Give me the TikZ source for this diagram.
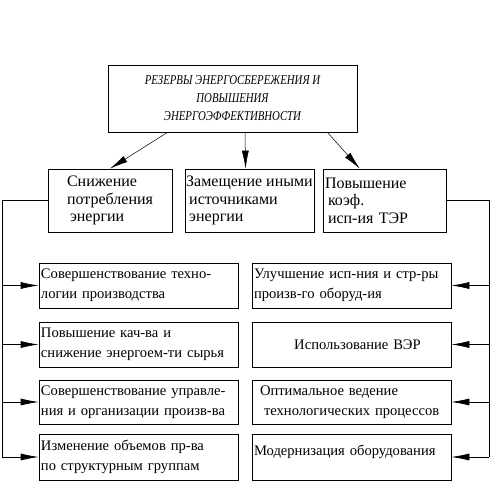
\documentclass[tikz,border=0pt]{standalone}
\usepackage{fontspec}
\setmainfont{Liberation Serif}
\newfontfamily\narrowfont[FakeStretch=0.8]{Liberation Serif}
\usetikzlibrary{arrows.meta, calc, positioning}

\begin{document}
\begin{tikzpicture}[% styles used in image code
   x = 1pt, y = -1pt, line width=0.7pt,
  feed/.style = {-{Latex[length=18pt, width=7pt]}},
 title/.style = {draw, minimum width=249pt, minimum height=67pt,
                 inner sep=0pt, align=center,
                 font=\narrowfont\itshape\fontsize{13.5}{18}\selectfont},
 group/.style = {draw, minimum height=63pt, inner sep=0pt, align=left,
                 font=\fontsize{16}{17.5}\selectfont},
   way/.style = {draw, text width=195pt, minimum height=45pt,
                 inner xsep=2pt, inner ysep=0pt, align=left,
                 font=\fontsize{14.6}{20}\selectfont}
                    ]
	\useasboundingbox (0,0) rectangle (499,481);

	% main box
	\node[title] (res) at (232.5,98.5)
	     {РЕЗЕРВЫ ЭНЕРГОСБЕРЕЖЕНИЯ И\\ПОВЫШЕНИЯ\\ЭНЕРГОЭФФЕКТИВНОСТИ};

	% three directions
	\node[group, minimum width=124pt] (low) at (110,200.5)
	     {Снижение\\потребления\\\hspace*{3pt}энергии};
	\node[group, minimum width=129pt] (sub) at (249.5,200.5)
	     {Замещение иными\\\hspace*{3pt}источниками\\\hspace*{3pt}энергии};
	\node[group, text width=119pt, inner xsep=2pt] (eff) at (384.5,200.5)
	     {Повышение\\\hspace*{3pt}коэф.\\\hspace*{3pt}исп-ия ТЭР};

	\draw[feed, line width=0.5pt] ($(res.south west)!0.24!(res.south east)$) -- (low.north);
	\draw[feed, line width=0.5pt] ($(res.south west)!0.55!(res.south east)$)
	     -- ($(sub.north west)!0.47!(sub.north east)$);
	\draw[feed, line width=0.5pt] ($(res.south west)!0.88!(res.south east)$)
	     -- ($(eff.north west)!0.3!(eff.north east)$);

	% measures, left column
	\node[way] (l1) at (138.5,285.5) {Совершенствование техно-\\логии производства};
	\node[way] (l2) at (138.5,344.5) {Повышение кач-ва и\\снижение энергоем-ти сырья};
	\node[way, minimum height=44pt] (l3) at (138.5,402)
	     {Совершенствование управле-\\ния и организации произв-ва};
	\node[way, minimum height=46pt] (l4) at (138.5,457)
	     {Изменение объемов пр-ва\\по структурным группам};

	% measures, right column
	\node[way] (r1) at (351.5,285.5) {Улучшение исп-ния и стр-ры\\произв-го оборуд-ия};
	\node[way, align=center] (r2) at (351.5,344.5) {\hspace*{12pt}Использование ВЭР};
	\node[way, minimum height=44pt] (r3) at (351.5,402)
	     {\hspace*{6pt}Оптимальное ведение\\\hspace*{10pt}технологических процессов};
	\node[way, minimum height=46pt, text depth=13pt] (r4) at (351.5,457)
	     {Модернизация оборудования};

	% side lines
	\coordinate (lbus) at (2,0);
	\coordinate (rbus) at (489,0);
	\draw (low.west) -| (lbus |- l4.west);
	\draw (eff.east) -| (rbus |- r4.east);
	\foreach \n in {l1,l2,l3,l4}
		\draw[feed] (lbus |- \n.west) -- (\n.west);
	\foreach \n in {r1,r2,r3,r4}
		\draw[feed] (rbus |- \n.east) -- (\n.east);
\end{tikzpicture}
\end{document}
